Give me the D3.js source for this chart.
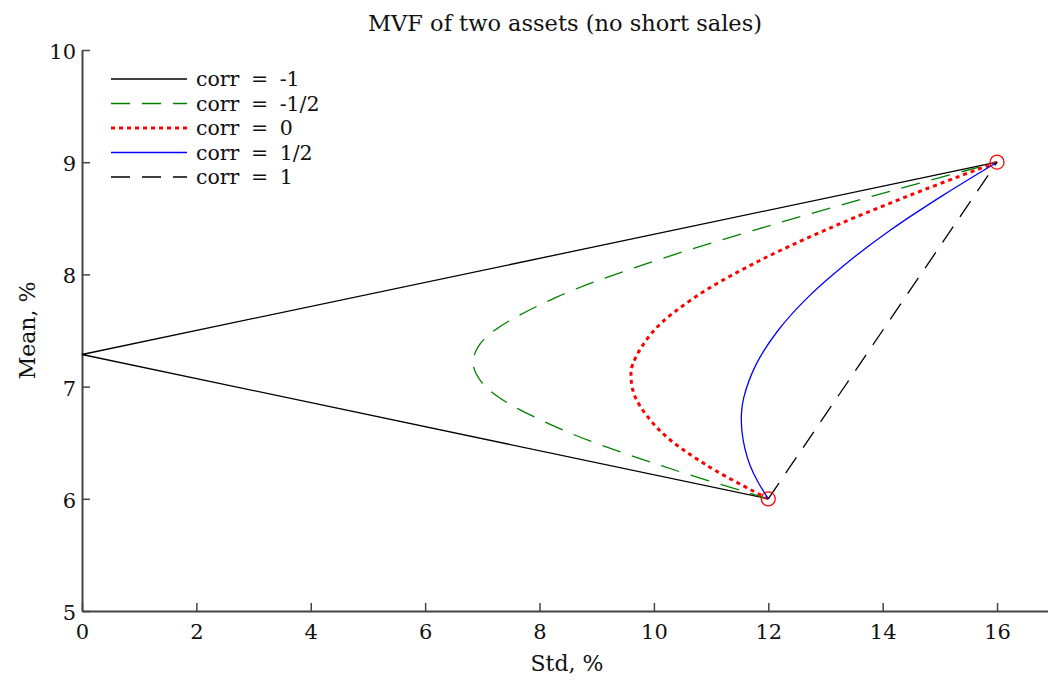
<!DOCTYPE html>
<html>
<head>
<meta charset="utf-8">
<script src="https://cdn.jsdelivr.net/npm/d3@7"></script>
<style>
  body { margin: 0; background: #fff; }
  svg text { font-family: "DejaVu Serif", serif; fill: #111; }
</style>
</head>
<body>
<div id="chart"></div>
<script>
// points as [std, mean]
const corrMinus1 = [[12, 6], [0, 7.286], [16, 9]];
const corrMinusHalf = [[12, 6], [10.10, 6.3], [8.47, 6.6], [7.30, 6.9], [6.97, 7.05], [6.84, 7.2], [6.92, 7.35],
  [7.21, 7.5], [8.31, 7.8], [9.90, 8.1], [11.79, 8.4], [13.84, 8.7], [16, 9]];
const corrZero = [[12, 6], [10.92, 6.3], [10.12, 6.6], [9.68, 6.9], [9.60, 7.08], [9.63, 7.2], [10.0, 7.5],
  [10.73, 7.8], [11.76, 8.1], [13.02, 8.4], [14.45, 8.7], [16, 9]];
const corrHalf = [[12, 6], [11.82, 6.15], [11.68, 6.3], [11.59, 6.45], [11.54, 6.6], [11.53, 6.75], [11.57, 6.9],
  [11.79, 7.2], [12.17, 7.5], [12.70, 7.8], [13.37, 8.1], [14.15, 8.4], [15.04, 8.7], [16, 9]];
const corrOne = [[12, 6], [16, 9]];
const assets = [[12, 6], [16, 9]];

const legendLabels = ['corr = -1', 'corr = -1/2', 'corr = 0', 'corr = 1/2', 'corr = 1'];
const xTicks = [0, 2, 4, 6, 8, 10, 12, 14, 16];
const yTicks = [5, 6, 7, 8, 9, 10];

const series = [
  {pts: corrMinus1, color: '#000', dash: null, w: 1.3, curve: d3.curveLinear},
  {pts: corrMinusHalf, color: '#008000', dash: '19,12', w: 1.3, curve: d3.curveCatmullRom},
  {pts: corrZero, color: '#ff0000', dash: '4,4', w: 3, curve: d3.curveCatmullRom},
  {pts: corrHalf, color: '#0000ff', dash: null, w: 1.3, curve: d3.curveCatmullRom},
  {pts: corrOne, color: '#000', dash: '19,12', w: 1.3, curve: d3.curveLinear}
];

const W = 1048, H = 680;
const margin = {top: 50, left: 82, bottom: 69};
const svg = d3.select('#chart').append('svg').attr('width', W).attr('height', H);

const x = d3.scaleLinear().domain([0, 17]).range([margin.left, margin.left + 17 * 57.19]);
const y = d3.scaleLinear().domain([5, 10]).range([H - margin.bottom, margin.top]);

// axes, ticks inward
const xAxis = svg.append('g').attr('transform', `translate(0,${y(5)})`)
  .call(d3.axisBottom(x).tickValues(xTicks).tickFormat(d3.format('d')).tickSizeInner(-8).tickSizeOuter(0).tickPadding(13));
const yAxis = svg.append('g').attr('transform', `translate(${x(0)},0)`)
  .call(d3.axisLeft(y).tickValues(yTicks).tickFormat(d3.format('d')).tickSizeInner(-8).tickSizeOuter(0).tickPadding(6));
[xAxis, yAxis].forEach(a => {
  a.select('.domain').attr('stroke', '#444').attr('stroke-width', 2);
  a.selectAll('.tick line').attr('stroke', '#444').attr('stroke-width', 1.5);
  a.selectAll('.tick text').style('font-size', '21px').attr('fill', '#111');
});
yAxis.selectAll('.tick text').attr('dy', '0.4em');

const line = d3.line().x(d => x(d[0])).y(d => y(d[1]));
series.forEach(s => {
  svg.append('path').datum(s.pts)
    .attr('d', line.curve(s.curve))
    .attr('fill', 'none')
    .attr('stroke', s.color)
    .attr('stroke-width', s.w)
    .attr('stroke-dasharray', s.dash);
});

svg.selectAll('.asset').data(assets).join('circle')
  .attr('class', 'asset')
  .attr('cx', d => x(d[0])).attr('cy', d => y(d[1])).attr('r', 7)
  .attr('fill', 'none').attr('stroke', '#ff0000').attr('stroke-width', 1.3);

// legend
const lg = svg.append('g');
legendLabels.forEach((lab, i) => {
  const s = series[i];
  const ly = 79 + i * 24.5;
  lg.append('line').attr('x1', 111).attr('x2', 187).attr('y1', ly).attr('y2', ly)
    .attr('stroke', s.color).attr('stroke-width', s.w).attr('stroke-dasharray', s.dash);
  lg.append('text').attr('x', 196).attr('y', ly).attr('dy', '0.36em')
    .style('font-size', '20.5px').style('word-spacing', '5px').text(lab);
});

svg.append('text').attr('x', 565).attr('y', 31).attr('text-anchor', 'middle').style('font-size', '22.5px')
  .text('MVF of two assets (no short sales)');
svg.append('text').attr('x', 567).attr('y', 671).attr('text-anchor', 'middle').style('font-size', '22px')
  .text('Std, %');
svg.append('text').attr('transform', `translate(35,${y(7.5)}) rotate(-90)`).attr('text-anchor', 'middle')
  .style('font-size', '22px').text('Mean, %');
</script>
</body>
</html>
